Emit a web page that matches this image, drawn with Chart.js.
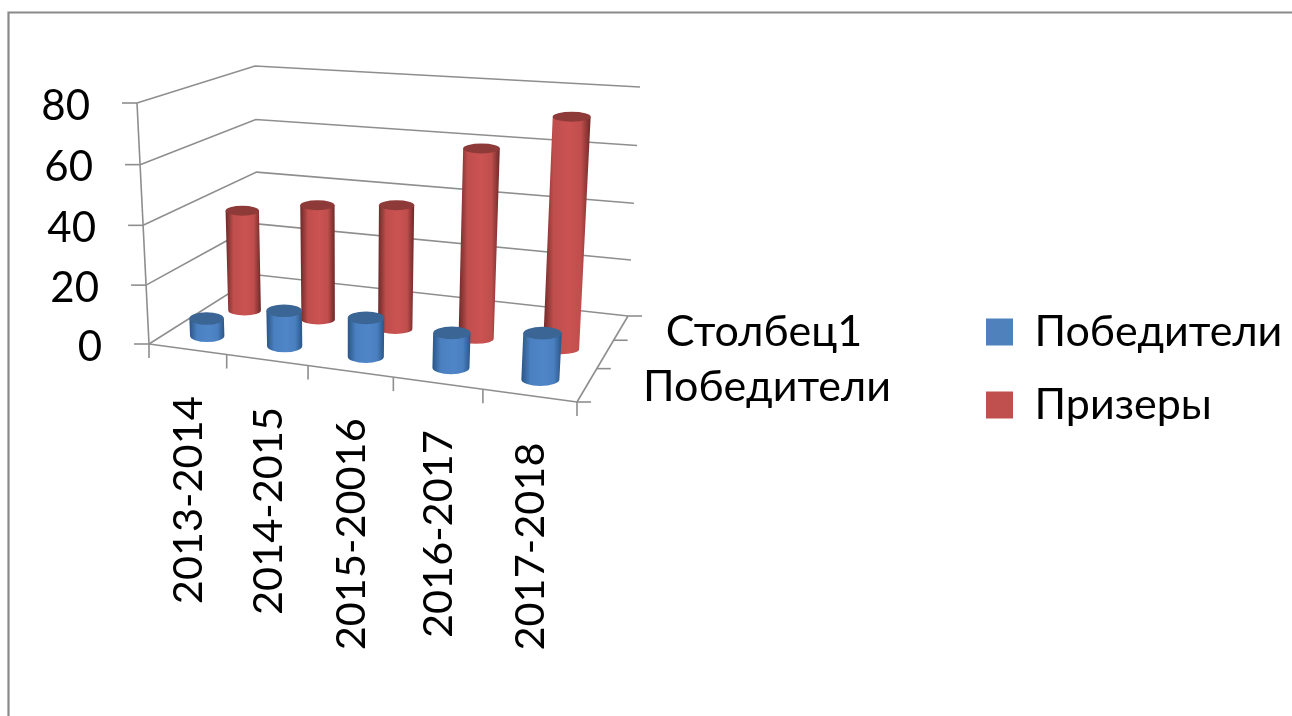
<!DOCTYPE html>
<html><head><meta charset="utf-8">
<style>html,body{margin:0;padding:0;background:#fff}#w{width:1292px;height:716px;position:relative}canvas{filter:blur(.5px)}</style>
<script src="https://cdn.jsdelivr.net/npm/chart.js@4"></script>
</head><body><div id="w"><canvas id="c"></canvas></div>
<script>
const categories = ['2013-2014','2014-2015','2015-20016','2016-2017','2017-2018'];
const winners = [6, 12, 13, 11.5, 15];
const prizewinners = [36, 40.5, 43, 64.5, 77];
const seriesNames = ['Победители','Призеры'];
const depthLabels = ['Столбец1','Победители'];
const yTicks = [0,20,40,60,80];

const FONT = 'Lato';
const GRID = '#8e8e8e';
// 3D box corners of the perspective frame
const box = {
  fb0:[149,344], fb1:[577,402], bb0:[258,275], bb1:[628,316],
  ft0:[137,103], ft1:[592,139], bt0:[255,66],  bt1:[640,87]
};
const lerp=(a,b,t)=>[a[0]+(b[0]-a[0])*t,a[1]+(b[1]-a[1])*t];
const warp=(t,c)=>(1+c)*t/(1+c*t);
function proj(u,v,d){
  const uu=warp(u,-0.113), vv=warp(v,-0.03);
  const f=lerp(lerp(box.fb0,box.fb1,uu),lerp(box.ft0,box.ft1,uu),vv);
  const b=lerp(lerp(box.bb0,box.bb1,uu),lerp(box.bt0,box.bt1,uu),vv);
  return lerp(f,b,d);
}
const depthOf=[0.19,0.55];
const depthTicks=[0,0.388,0.718,1];
const shades=[
  {edge:'#2a5587',mid:'#4f86c8',top:'#3b6594',bot:'#4a80c0',ry:6.3},
  {edge:'#6b2928',mid:'#cb5352',top:'#8e3a38',bot:'#bf4e4c',ry:5}
];
function line(ctx,a,b){ctx.beginPath();ctx.moveTo(a[0],a[1]);ctx.lineTo(b[0],b[1]);ctx.stroke();}

const threeD={
  id:'threeD',
  afterLayout(chart){
    const l=chart.legend;
    const w=l.width,h=l.height;
    l.left=956;l.top=280.5;l.right=956+w;l.bottom=280.5+h;
  },
  beforeDatasetsDraw(chart){
    const ctx=chart.ctx,a=chart.chartArea,ys=chart.scales.y,xs=chart.scales.x;
    ctx.save();
    // outer frame
    ctx.strokeStyle='#8a8a8a';ctx.lineWidth=2.2;
    ctx.beginPath();ctx.moveTo(8.5,716);ctx.lineTo(8.5,12.5);ctx.lineTo(1292,12.5);ctx.stroke();
    ctx.strokeStyle=GRID;ctx.lineWidth=1.6;
    // walls
    yTicks.forEach(t=>{
      const v=(a.bottom-ys.getPixelForValue(t))/a.height;
      const p0=proj(0,v,0),p1=proj(0,v,1),p2=proj(1,v,1);
      ctx.beginPath();ctx.moveTo(p0[0],p0[1]);ctx.lineTo(p1[0],p1[1]);ctx.lineTo(p2[0],p2[1]);ctx.stroke();
      line(ctx,[p0[0]-15,p0[1]],p0);
      ctx.fillStyle='#000';ctx.font='42px '+FONT;ctx.textAlign='right';ctx.textBaseline='middle';
      ctx.fillText(String(t),p0[0]-47,p0[1]+3);
    });
    line(ctx,proj(0,0,0),proj(0,1,0));
    // floor
    line(ctx,proj(0,0,0),proj(1,0,0));
    line(ctx,proj(1,0,0),proj(1,0,1));
    // category ticks and labels
    categories.forEach((c,i)=>{
      const x=xs.getPixelForTick(i);
      const u=(x-a.left)/a.width;
      const p=proj(u,0,0);
      ctx.save();ctx.translate(p[0]+1.5,p[1]+47);ctx.rotate(-Math.PI/2);
      ctx.fillStyle='#000';ctx.font='41.5px '+FONT;ctx.textAlign='right';ctx.textBaseline='middle';
      ctx.fillText(c,0,0);ctx.restore();
    });
    for(let i=0;i<=categories.length;i++){
      const p=proj(i/categories.length,0,0);
      line(ctx,p,[p[0],p[1]+14]);
    }
    // depth ticks
    depthTicks.forEach(d=>{const p=proj(1,0,d);line(ctx,p,[p[0]+14,p[1]]);});
    ctx.fillStyle='#000';ctx.font='43px '+FONT;ctx.textAlign='center';ctx.textBaseline='middle';
    ctx.fillText(depthLabels[0],764,332);
    ctx.fillText(depthLabels[1],767,387);
    ctx.restore();
  },
  beforeDatasetDraw(chart,args){
    const ctx=chart.ctx,a=chart.chartArea,meta=args.meta,i=args.index;
    const d=depthOf[i],s=shades[i];
    const U=x=>(x-a.left)/a.width, V=y=>(a.bottom-y)/a.height;
    meta.data.forEach(el=>{
      const hw=el.width/2*(1.12-.12*U(el.x));
      const bl=proj(U(el.x-hw),V(el.base),d),br=proj(U(el.x+hw),V(el.base),d);
      const tl=proj(U(el.x-hw),V(el.y),d),tr=proj(U(el.x+hw),V(el.y),d);
      const bc=lerp(bl,br,.5),tc=lerp(tl,tr,.5);
      const brx=(br[0]-bl[0])/2,trx=(tr[0]-tl[0])/2;
      const ry=s.ry;
      const g=ctx.createLinearGradient(Math.min(bl[0],tl[0]),0,Math.max(br[0],tr[0]),0);
      g.addColorStop(0,s.edge);g.addColorStop(.22,s.bot);g.addColorStop(.55,s.mid);g.addColorStop(.8,s.bot);g.addColorStop(1,s.edge);
      ctx.save();
      ctx.fillStyle=g;
      ctx.beginPath();
      ctx.moveTo(tl[0],tc[1]);
      ctx.lineTo(bl[0],bc[1]);
      ctx.ellipse(bc[0],bc[1],brx,ry,0,Math.PI,0,true);
      ctx.lineTo(tr[0],tc[1]);
      ctx.closePath();
      ctx.fill();
      ctx.fillStyle=s.top;
      ctx.beginPath();ctx.ellipse(tc[0],tc[1],trx,ry,0,0,Math.PI*2);ctx.fill();
      ctx.restore();
    });
    return false;
  }
};

new Chart(document.getElementById('c'),{
  type:'bar',
  data:{labels:categories,datasets:[
    {label:seriesNames[0],data:winners,backgroundColor:'#4F81BD',borderWidth:0},
    {label:seriesNames[1],data:prizewinners,backgroundColor:'#C0504D',borderWidth:0}
  ]},
  plugins:[threeD],
  options:{
    responsive:true,maintainAspectRatio:false,animation:false,
    layout:{padding:{left:149,top:103,right:715,bottom:372}},
    datasets:{bar:{grouped:false,categoryPercentage:1,barPercentage:.41}},
    scales:{
      x:{ticks:{display:false},grid:{display:false},border:{display:false}},
      y:{min:0,max:80,ticks:{display:false,stepSize:20},grid:{display:false},border:{display:false}}
    },
    plugins:{
      tooltip:{enabled:false},
      legend:{position:'chartArea',align:'start',labels:{boxWidth:27,boxHeight:27,padding:30,color:'#000',font:{family:FONT,size:43}}}
    }
  }
});
</script></body></html>
